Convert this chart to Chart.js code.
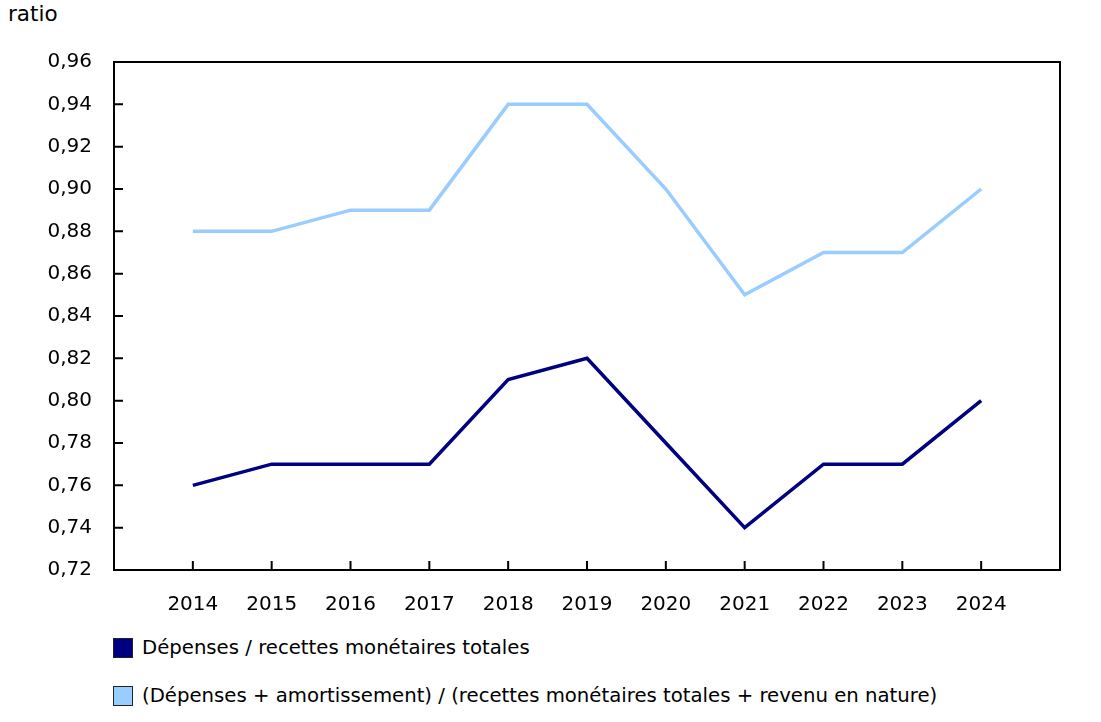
<!DOCTYPE html>
<html>
<head>
<meta charset="utf-8">
<script src="https://cdn.jsdelivr.net/npm/chart.js@4"></script>
<style>
    body { margin: 0; background: #fff; font-family: "DejaVu Sans", Verdana, sans-serif; }
    #wrap { position: relative; width: 1101px; height: 722px; }
    #unit { position: absolute; left: 8px; top: 1px; font-size: 21.5px; color: #000; }
    #chartBox { position: absolute; left: 0; top: 0; width: 1101px; height: 630px; }
    .legend { position: absolute; left: 113px; font-size: 19.7px; color: #000; display: flex; align-items: center; }
    .legend span.box { display: inline-block; width: 18px; height: 18px; border: 1px solid #222; margin-right: 9px; }
</style>
</head>
<body>
<div id="wrap">
    <div id="unit">ratio</div>
    <div id="chartBox"><canvas id="chart"></canvas></div>
    <div class="legend" id="leg1" style="top:636px"><span class="box"></span><span class="txt"></span></div>
    <div class="legend" id="leg2" style="top:684px"><span class="box"></span><span class="txt"></span></div>
</div>
<script>
const years = [2014, 2015, 2016, 2017, 2018, 2019, 2020, 2021, 2022, 2023, 2024];
const depensesRecettes = [0.76, 0.77, 0.77, 0.77, 0.81, 0.82, 0.78, 0.74, 0.77, 0.77, 0.80];
const depensesAmort = [0.88, 0.88, 0.89, 0.89, 0.94, 0.94, 0.90, 0.85, 0.87, 0.87, 0.90];
const seriesNames = [
    'Dépenses / recettes monétaires totales',
    '(Dépenses + amortissement) / (recettes monétaires totales + revenu en nature)'
];
const seriesColors = ['#000080', '#99ccff'];

// legend in html, stacked like the original
['leg1', 'leg2'].forEach((id, i) => {
    const el = document.getElementById(id);
    el.querySelector('.box').style.background = seriesColors[i];
    el.querySelector('.txt').textContent = seriesNames[i];
});

// small inward tick marks on both axes
const innerTicks = {
    id: 'innerTicks',
    afterDraw(chart) {
        const ctx = chart.ctx;
        const x = chart.scales.x, y = chart.scales.y;
        const area = chart.chartArea;
        ctx.save();
        ctx.strokeStyle = '#000';
        ctx.lineWidth = 2;
        ctx.beginPath();
        y.ticks.forEach(t => {
            const py = y.getPixelForValue(t.value);
            ctx.moveTo(area.left, py);
            ctx.lineTo(area.left + 9, py);
        });
        years.forEach(yr => {
            const px = x.getPixelForValue(yr);
            ctx.moveTo(px, area.bottom);
            ctx.lineTo(px, area.bottom - 9);
        });
        ctx.stroke();
        ctx.strokeRect(area.left, area.top, area.right - area.left, area.bottom - area.top);
        ctx.restore();
    }
};

const toPoints = vals => vals.map((v, i) => ({ x: years[i], y: v }));

new Chart(document.getElementById('chart'), {
    type: 'line',
    data: {
        datasets: [
            { label: seriesNames[0], data: toPoints(depensesRecettes), borderColor: seriesColors[0], borderWidth: 3.5, pointRadius: 0, tension: 0 },
            { label: seriesNames[1], data: toPoints(depensesAmort), borderColor: seriesColors[1], borderWidth: 3.5, pointRadius: 0, tension: 0 }
        ]
    },
    options: {
        responsive: true,
        maintainAspectRatio: false,
        animation: false,
        layout: { padding: { left: 0, top: 62, right: 41, bottom: 0 } },
        plugins: { legend: { display: false }, tooltip: { enabled: false } },
        scales: {
            x: {
                type: 'linear',
                min: 2013,
                max: 2025,
                afterFit: s => { s.height = 60; },
                afterBuildTicks: s => { s.ticks = years.map(v => ({ value: v })); },
                grid: { display: false },
                border: { display: false },
                ticks: {
                    color: '#000',
                    padding: 15,
                    font: { family: 'DejaVu Sans', size: 20 },
                    callback: v => String(v)
                }
            },
            y: {
                min: 0.72,
                max: 0.96,
                afterFit: s => { s.width = 114; },
                grid: { display: false },
                border: { display: false },
                ticks: {
                    stepSize: 0.02,
                    color: '#000',
                    padding: 14,
                    font: { family: 'DejaVu Sans', size: 20 },
                    callback: v => v.toFixed(2).replace('.', ',')
                }
            }
        }
    },
    plugins: [innerTicks]
});
</script>
</body>
</html>
